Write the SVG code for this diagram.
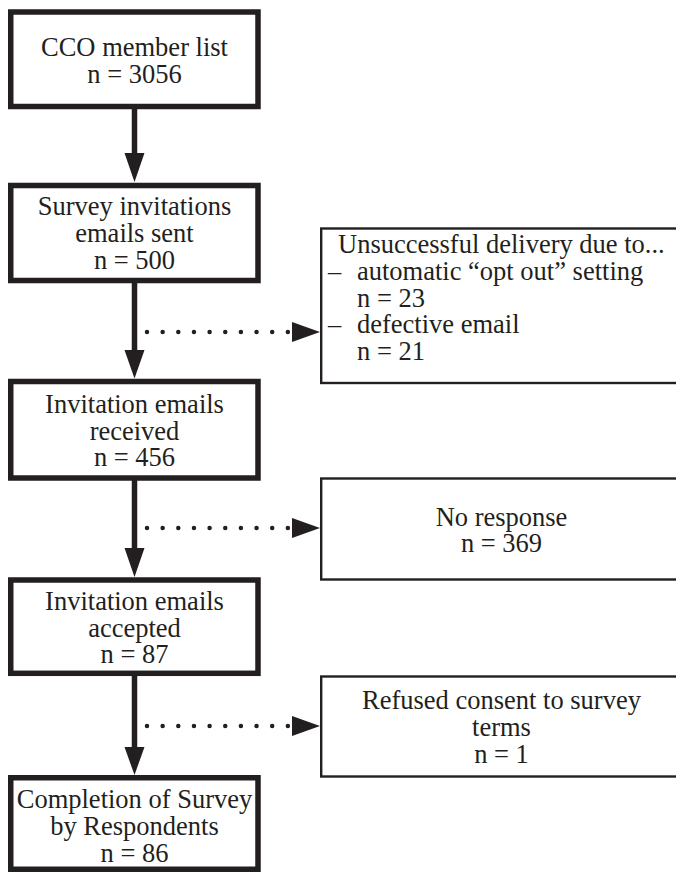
<svg xmlns="http://www.w3.org/2000/svg" width="676" height="872" viewBox="0 0 676 872">
<style>
.main{fill:#fff;stroke:#231f20;stroke-width:5.5}
.side{fill:#fff;stroke:#231f20;stroke-width:2.4}
.t{font-family:'Liberation Serif','Times New Roman',Times,serif;font-size:26.5px;fill:#231f20}
.c{text-anchor:middle}
.shaft{stroke:#231f20;stroke-width:5.5;fill:none}
.dots{stroke:#231f20;stroke-width:4.5;stroke-linecap:round;stroke-dasharray:0 15.65;fill:none}
.head{fill:#231f20}
</style>
<rect width="676" height="872" fill="#fff"/>
<g id="connectors">
  <line class="shaft" x1="134.5" y1="106" x2="134.5" y2="155"/>
  <polygon class="head" points="124.5,153 144.5,153 134.5,182"/>
  <line class="shaft" x1="134.5" y1="280" x2="134.5" y2="352"/>
  <polygon class="head" points="124.5,350 144.5,350 134.5,378.5"/>
  <line class="shaft" x1="134.5" y1="478" x2="134.5" y2="550"/>
  <polygon class="head" points="124.5,548 144.5,548 134.5,577"/>
  <line class="shaft" x1="134.5" y1="673" x2="134.5" y2="749"/>
  <polygon class="head" points="124.5,747 144.5,747 134.5,775"/>
  <line class="dots" x1="147" y1="332" x2="288" y2="332"/>
  <polygon class="head" points="292,322 320,332 292,342"/>
  <line class="dots" x1="147" y1="528" x2="288" y2="528"/>
  <polygon class="head" points="292,518 320,528 292,538"/>
  <line class="dots" x1="147" y1="726" x2="288" y2="726"/>
  <polygon class="head" points="292,716 320,726 292,736"/>
</g>
<g id="n1" class="t" font-family="Liberation Serif, serif">
  <rect class="main" x="10.75" y="12" width="247.25" height="94.5"/>
  <text class="c" x="134.5" y="55.5">CCO member list</text>
  <text class="c" x="134.5" y="82.5">n = 3056</text>
</g>
<g id="n2" class="t">
  <rect class="main" x="10.75" y="185.5" width="247.25" height="95"/>
  <text class="c" x="134.5" y="215">Survey invitations</text>
  <text class="c" x="134.5" y="242">emails sent</text>
  <text class="c" x="134.5" y="269">n = 500</text>
</g>
<g id="n3" class="t">
  <rect class="main" x="10.75" y="381.5" width="247.25" height="96.5"/>
  <text class="c" x="134.5" y="413">Invitation emails</text>
  <text class="c" x="134.5" y="439.5">received</text>
  <text class="c" x="134.5" y="466">n = 456</text>
</g>
<g id="n4" class="t">
  <rect class="main" x="10.75" y="580" width="247.25" height="93.3"/>
  <text class="c" x="134.5" y="610">Invitation emails</text>
  <text class="c" x="134.5" y="637">accepted</text>
  <text class="c" x="134.5" y="663">n = 87</text>
</g>
<g id="n5" class="t">
  <rect class="main" x="10.75" y="777.75" width="247.25" height="91.5"/>
  <text class="c" x="134.5" y="808">Completion of Survey</text>
  <text class="c" x="134.5" y="835">by Respondents</text>
  <text class="c" x="134.5" y="862">n = 86</text>
</g>
<g id="s1" class="t">
  <rect class="side" x="321.2" y="228.5" width="370" height="154.5"/>
  <text x="338" y="253">Unsuccessful delivery due to...</text>
  <text x="328" y="280">–</text>
  <text x="357" y="280">automatic “opt out” setting</text>
  <text x="357" y="307">n = 23</text>
  <text x="328" y="333">–</text>
  <text x="357" y="333">defective email</text>
  <text x="357" y="360">n = 21</text>
</g>
<g id="s2" class="t">
  <rect class="side" x="321.2" y="478.5" width="370" height="101"/>
  <text class="c" x="501.5" y="526">No response</text>
  <text class="c" x="501.5" y="552">n = 369</text>
</g>
<g id="s3" class="t">
  <rect class="side" x="321.2" y="676.5" width="370" height="100"/>
  <text class="c" x="501.5" y="709">Refused consent to survey</text>
  <text class="c" x="501.5" y="736">terms</text>
  <text class="c" x="501.5" y="763">n = 1</text>
</g>
</svg>
